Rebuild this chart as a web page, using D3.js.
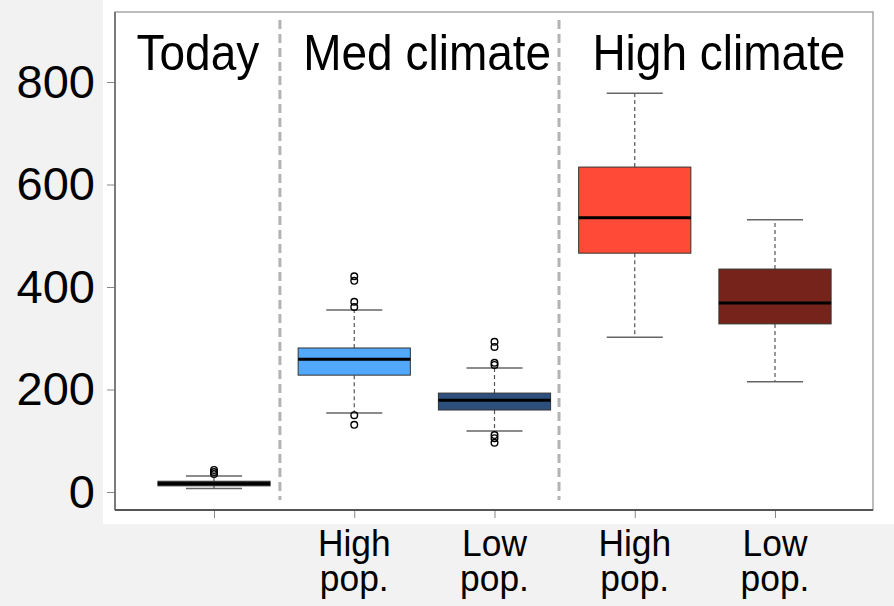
<!DOCTYPE html>
<html>
<head>
<meta charset="utf-8">
<script src="https://cdn.jsdelivr.net/npm/d3@7"></script>
<style>
  body { margin: 0; background: #f2f2f2; }
  svg { display: block; font-family: "Liberation Sans", Arial, sans-serif; }
</style>
</head>
<body>
<svg id="chart" width="894" height="606"></svg>
<script>
// data
var positions = [1, 2, 3, 4, 5];
var fills = ['#222222', '#52a8fb', '#2c4f7c', '#ff4a38', '#76241b'];
var q1 = [12, 228, 160, 466, 328];
var medians = [16, 259, 179, 535, 369];
var q3 = [21, 281, 193, 634, 435];
var whiskLo = [7, 154, 119, 302, 215];
var whiskHi = [31, 355, 242, 778, 531];
var outliers = [
    [35, 39, 43],
    [131, 150, 361, 371, 412, 421],
    [96, 105, 111, 248, 252, 283, 293],
    [],
    []
];
var yTicks = [0, 200, 400, 600, 800];
var xLabelTop = ['', 'High', 'Low', 'High', 'Low'];
var xLabelBottom = ['', 'pop.', 'pop.', 'pop.', 'pop.'];
var groupLabels = ['Today', 'Med climate', 'High climate'];
var groupCenters = [0.885, 2.52, 4.6];
var separators = [1.47, 3.46];

var svg = d3.select('#chart');

// plot frame (pixels)
var frame = {left: 115, right: 873, top: 12, bottom: 510};

var x = d3.scaleLinear().domain([1, 5]).range([214, 775]);
var y = d3.scaleLinear().domain([0, 800]).range([492, 82]);
var boxW = (x(2) - x(1)) * 0.8;

// white panel
svg.append('rect')
    .attr('x', 103).attr('y', 0)
    .attr('width', 894 - 103).attr('height', 524)
    .attr('fill', '#ffffff');

// separators
svg.selectAll('line.sep')
    .data(separators)
    .enter()
    .append('line')
    .classed('sep', true)
    .attr('x1', function(d) { return x(d); })
    .attr('x2', function(d) { return x(d); })
    .attr('y1', 20).attr('y2', 500)
    .attr('stroke', '#b3b3b3')
    .attr('stroke-width', 3)
    .attr('stroke-dasharray', '9,5');

// y axis
var yAxis = d3.axisLeft(y).tickValues(yTicks).tickSize(8).tickPadding(12);
var gy = svg.append('g')
    .attr('transform', 'translate(' + frame.left + ',0)')
    .call(yAxis);
gy.select('.domain').remove();
gy.selectAll('.tick line').attr('stroke', '#888');
gy.selectAll('.tick text')
    .attr('font-size', 47)
    .attr('font-family', '"Liberation Sans", Arial, sans-serif')
    .attr('fill', '#000');

// x axis ticks
var xAxis = d3.axisBottom(x).tickValues(positions).tickSize(8).tickFormat('');
var gx = svg.append('g')
    .attr('transform', 'translate(0,' + frame.bottom + ')')
    .call(xAxis);
gx.select('.domain').remove();
gx.selectAll('.tick line').attr('stroke', '#888');

// x labels, two lines each
svg.selectAll('text.xlab1')
    .data(positions)
    .enter()
    .append('text')
    .classed('xlab1', true)
    .attr('text-anchor', 'middle')
    .attr('font-size', 34)
    .attr('fill', '#000')
    .attr('transform', function(d) { return 'translate(' + x(d) + ',556) scale(1.04,1.1)'; })
    .text(function(d, i) { return xLabelTop[i]; });
svg.selectAll('text.xlab2')
    .data(positions)
    .enter()
    .append('text')
    .classed('xlab2', true)
    .attr('text-anchor', 'middle')
    .attr('font-size', 34)
    .attr('fill', '#000')
    .attr('transform', function(d) { return 'translate(' + x(d) + ',591) scale(1.04,1.1)'; })
    .text(function(d, i) { return xLabelBottom[i]; });

// frame
svg.append('rect')
    .attr('x', frame.left).attr('y', frame.top)
    .attr('width', frame.right - frame.left).attr('height', frame.bottom - frame.top)
    .attr('fill', 'none')
    .attr('stroke', '#999')
    .attr('stroke-width', 1.3);
svg.append('line')
    .attr('x1', frame.left).attr('x2', frame.right)
    .attr('y1', frame.bottom).attr('y2', frame.bottom)
    .attr('stroke', '#333').attr('stroke-width', 1.5);
svg.append('line')
    .attr('x1', frame.left).attr('x2', frame.left)
    .attr('y1', frame.top).attr('y2', frame.bottom)
    .attr('stroke', '#666').attr('stroke-width', 1.5);

// group labels
svg.selectAll('text.group')
    .data(groupLabels)
    .enter()
    .append('text')
    .classed('group', true)
    .attr('text-anchor', 'middle')
    .attr('font-size', 46)
    .attr('fill', '#000')
    .attr('transform', function(d, i) { return 'translate(' + x(groupCenters[i]) + ',70) scale(1,1.1)'; })
    .text(function(d) { return d; });

// boxes
var boxes = svg.selectAll('g.box')
    .data(positions)
    .enter()
    .append('g')
    .classed('box', true);

boxes.each(function(d, i) {
    var g = d3.select(this);
    var cx = x(d);
    // whisker stems
    g.append('line')
        .attr('x1', cx).attr('x2', cx)
        .attr('y1', y(q3[i])).attr('y2', y(whiskHi[i]))
        .attr('stroke', '#555').attr('stroke-width', 1.2)
        .attr('stroke-dasharray', '4,3');
    g.append('line')
        .attr('x1', cx).attr('x2', cx)
        .attr('y1', y(q1[i])).attr('y2', y(whiskLo[i]))
        .attr('stroke', '#555').attr('stroke-width', 1.2)
        .attr('stroke-dasharray', '4,3');
    // caps
    [whiskHi[i], whiskLo[i]].forEach(function(v) {
        g.append('line')
            .attr('x1', cx - boxW / 4).attr('x2', cx + boxW / 4)
            .attr('y1', y(v)).attr('y2', y(v))
            .attr('stroke', '#666').attr('stroke-width', 1.5);
    });
    // box
    g.append('rect')
        .attr('x', cx - boxW / 2)
        .attr('y', y(q3[i]))
        .attr('width', boxW)
        .attr('height', y(q1[i]) - y(q3[i]))
        .attr('fill', fills[i])
        .attr('stroke', '#333')
        .attr('stroke-width', 1);
    // median
    g.append('line')
        .attr('x1', cx - boxW / 2).attr('x2', cx + boxW / 2)
        .attr('y1', y(medians[i])).attr('y2', y(medians[i]))
        .attr('stroke', '#000').attr('stroke-width', 3);
    // outliers
    g.selectAll('circle')
        .data(outliers[i])
        .enter()
        .append('circle')
        .attr('cx', cx)
        .attr('cy', function(v) { return y(v); })
        .attr('r', 3.3)
        .attr('fill', 'none')
        .attr('stroke', '#000')
        .attr('stroke-width', 1.4);
});
</script>
</body>
</html>
